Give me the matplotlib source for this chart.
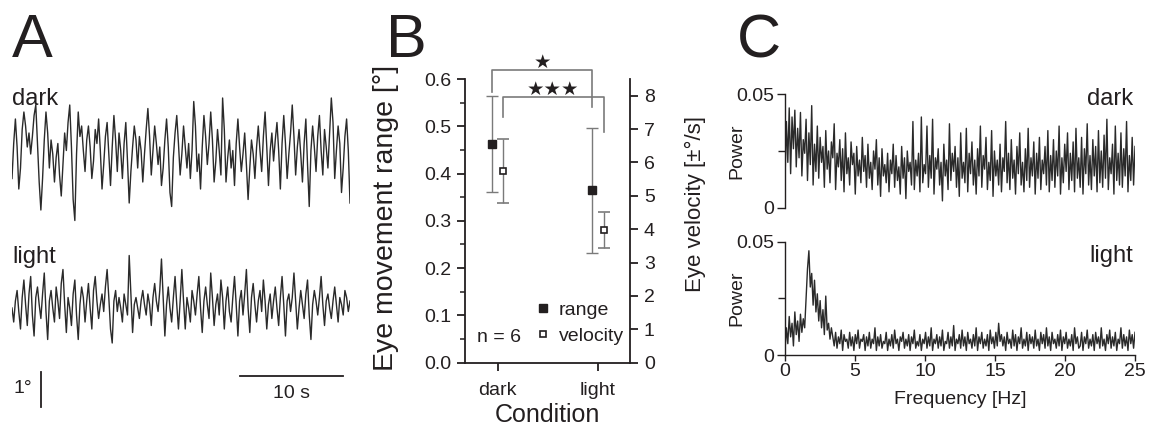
import matplotlib
matplotlib.use("Agg")

import matplotlib.pyplot as plt
import numpy as np
from matplotlib.lines import Line2D

plt.rcParams['font.family'] = ['Liberation Sans', 'DejaVu Sans']
INK = '#231f20'
GREY = '#7a7a7a'
TRACE = '#2a2a2a'

# --- A: example eye position traces (tenths of a degree around baseline) ---
trace_dark = [
    -6, 4, 11, 3, -9, -3, 8, 13, 9, 3, 7, 1, 6, 12, 15, 4, -7, -15, -6, 5,
    13, 7, -3, 5, 1, -7, 0, 4, -5, -11, -2, 7, 2, 10, 15, 3, -12, -18, 1, 13,
    6, 9, 2, -4, 5, 9, 3, -6, -1, 8, 4, 11, 2, -9, -2, 6, 10, 1, -8, 3,
    12, 5, -4, 7, 2, -6, 4, 10, -1, -13, -4, 3, 9, 5, -3, 6, 2, -7, 1, 8,
    14, 6, -5, 2, 9, 4, -2, 3, -8, -3, 5, 11, 3, -10, -14, 0, 7, 12, 4, -5,
    1, 9, 3, -3, 4, -6, 2, 16, 9, -4, 1, -9, 3, 12, 6, -2, 4, 13, 5, -7,
    -1, 8, 2, -5, 17, 8, -7, 0, 5, -3, 2, -8, 4, 11, 3, -4, 1, 7, -2, -12,
    -3, 5, 1, -6, 3, 9, 2, -4, 6, 13, 3, -8, 2, 7, -1, 5, 10, 2, -9, 4,
    12, 4, -6, 1, 7, 15, 6, -5, 3, 8, 1, -7, 4, 11, -2, -14, 2, 9, 3, -4,
    6, 12, 2, -5, 8, 3, -3, 7, 17, 10, -6, 2, 9, 4, -10, -3, 6, 11, 2, -13,
]
trace_light = [
    0, -4, 2, 5, -1, -6, 3, 8, 1, -5, 4, 9, -2, -8, 3, 6, 1, -3, 4, 10,
    -1, -9, 2, 5, 0, -4, 6, 2, -3, 7, 11, 1, -7, 3, 0, -5, 4, 8, -2, -9,
    1, 6, 3, -4, 2, 7, 0, -6, 5, 9, 2, -3, 1, 4, -1, 6, 11, 3, -6, -10,
    2, 5, -1, 3, 0, -4, 4, 1, -2, 15, 4, -7, 1, 3, 0, -3, 2, 5, 1, -2,
    4, 1, -5, 3, 7, 2, -1, 5, 14, 3, -8, 1, 6, 0, -4, 3, 9, 1, -6, 2,
    11, 2, -6, 3, 0, -4, 5, 2, -2, 4, 9, 0, -7, 2, 6, 1, -3, 10, 3, -5,
    1, 4, -2, 8, 3, -6, 2, 6, -1, -4, 3, 9, 1, -8, 2, 5, -2, 4, 11, 0,
    -7, 3, 7, 1, -4, 2, 5, -1, 8, 2, -6, 1, 4, -3, 2, 6, 0, -5, 3, 9,
    1, -8, 2, 4, -1, 3, 10, 2, -6, 0, 5, 1, -3, 4, 8, -2, -9, 1, 5, 2,
    -2, 3, 9, 1, -5, 2, 4, 0, -3, 2, 6, 1, -4, 3, 1, -2, 5, 3, -1, 2,
]
trace_duration = 33.0  # s

# --- B: group means +- SD (n = 6) ---
conditions = ['dark', 'light']
range_mean = [0.462, 0.365]
range_sd = [0.102, 0.132]
velocity_mean = [5.74, 3.98]
velocity_sd = [0.97, 0.54]

# --- C: power spectra (units of 0.001), 0-25 Hz ---
power_dark = [
    12, 38, 20, 44, 15, 40, 26, 43, 18, 35, 22, 42, 14, 30, 24, 39, 12, 33, 19, 45,
    10, 28, 16, 36, 13, 31, 20, 27, 9, 34, 17, 25, 11, 29, 22, 37, 8, 24, 18, 30,
    12, 26, 7, 33, 15, 22, 10, 29, 19, 24, 6, 27, 14, 21, 11, 31, 16, 23, 9, 28,
    13, 20, 8, 25, 17, 30, 10, 22, 5, 26, 14, 19, 11, 24, 7, 21, 15, 28, 9, 23,
    12, 18, 6, 27, 13, 22, 4, 25, 16, 20, 10, 38, 8, 21, 14, 24, 7, 40, 11, 19,
    15, 36, 9, 23, 13, 39, 6, 22, 17, 26, 10, 20, 3, 28, 14, 21, 8, 37, 12, 24,
    16, 27, 9, 22, 5, 33, 13, 20, 11, 35, 7, 24, 15, 29, 10, 21, 6, 26, 14, 36,
    9, 23, 17, 31, 8, 20, 12, 34, 5, 25, 14, 21, 10, 28, 7, 22, 16, 38, 11, 24,
    8, 30, 13, 21, 6, 27, 15, 33, 10, 20, 7, 26, 12, 35, 9, 22, 14, 29, 6, 24,
    13, 31, 8, 21, 15, 27, 10, 34, 7, 23, 12, 30, 9, 25, 14, 36, 6, 22, 11, 28,
    16, 33, 8, 24, 12, 29, 7, 35, 13, 22, 9, 31, 6, 26, 15, 37, 10, 23, 8, 30,
    14, 27, 7, 34, 11, 25, 9, 32, 13, 39, 8, 22, 15, 28, 6, 36, 12, 24, 10, 33,
    9, 26, 14, 38, 7, 23, 12, 31, 10, 27,
]
power_light = [
    2, 12, 5, 17, 8, 14, 4, 19, 9, 15, 6, 18, 10, 16, 12,
    25, 38, 46, 30, 36, 22, 33, 19, 27, 15,
    24, 12, 20, 9, 26, 11, 14, 7, 12, 8,
    4, 10, 3, 8, 5, 11, 2, 9, 6, 7, 3, 10, 4, 8, 2, 9, 5, 11, 3, 7,
    6, 9, 2, 8, 4, 10, 3, 7, 5, 12, 2, 8, 4, 9, 3, 6, 5, 10, 2, 7,
    4, 9, 3, 11, 5, 7, 2, 8, 6, 10, 3, 7, 4, 9, 2, 8, 5, 11, 3, 6,
    4, 9, 2, 7, 5, 10, 3, 8, 4, 12, 2, 7, 5, 9, 3, 8, 4, 11, 2, 6,
    5, 10, 3, 8, 4, 13, 2, 7, 5, 9, 3, 11, 4, 8, 2, 10, 5, 7, 3, 9,
    4, 12, 2, 8, 5, 10, 3, 7, 4, 9, 2, 11, 5, 8, 3, 10, 4, 14, 6, 9,
    4, 8, 2, 10, 5, 7, 3, 11, 4, 9, 2, 8, 5, 12, 3, 7, 4, 10, 2, 9,
    5, 8, 3, 11, 4, 7, 2, 10, 5, 9, 3, 12, 4, 8, 2, 10, 5, 7, 3, 9,
    4, 11, 2, 8, 5, 10, 3, 7, 4, 9, 2, 12, 5, 8, 3,
    4, 10, 2, 8, 5, 11, 3, 7, 4, 9, 2, 10, 5, 8, 3, 12, 4, 7, 2, 9,
    5, 11, 3, 8, 4, 10, 2, 7, 5, 12, 3, 9, 4, 8, 2, 11, 5, 9, 3, 10,
]
freq_max = 25.0

W, H = 1152, 425
fig = plt.figure(figsize=(W / 100, H / 100), dpi=100)


def px_axes(x0, y0, x1, y1):
    """Axes placed by pixel box (top-left origin)."""
    return fig.add_axes([x0 / W, 1 - y1 / H, (x1 - x0) / W, (y1 - y0) / H])


for letter, x in (('A', 12), ('B', 386), ('C', 737)):
    fig.text(x / W, 1 - 57 / H, letter, fontsize=44, color=INK, va='baseline')

# ---------------- A ----------------
axa = px_axes(12, 80, 350, 420)
axa.axis('off')
axa.set_xlim(0, trace_duration)
axa.set_ylim(0, 340 / 35)  # 35 px per degree
t_dark = np.linspace(0, trace_duration, len(trace_dark))
t_light = np.linspace(0, trace_duration, len(trace_light))
axa.plot(t_dark, 7.5 + 0.1 * np.array(trace_dark), color=TRACE, lw=1.0)
axa.plot(t_light, 3.2 + 0.1 * np.array(trace_light), color=TRACE, lw=1.0)
axa.text(0, 9.0, 'dark', fontsize=17, color=INK, va='baseline')
axa.text(0, 4.5, 'light', fontsize=17, color=INK, va='baseline')
# scale bars: 1 deg, 10 s
axa.plot([2.83, 2.83], [0.37, 1.37], color=INK, lw=1.3)
axa.text(0.1, 0.78, '1°', fontsize=14, color=INK, va='baseline')
axa.plot([22.27, 32.27], [1.26, 1.26], color=INK, lw=1.3)
axa.text(27.3, 0.63, '10 s', fontsize=14, color=INK, ha='center', va='baseline')

# ---------------- B ----------------
axb = px_axes(465, 79, 630, 362.7)
xpos = np.arange(len(conditions)) + 1.0
off = 0.055
axb.errorbar(xpos - off, range_mean, yerr=range_sd, fmt='s', ms=6,
             mfc=INK, mec=INK, ecolor=GREY, elinewidth=1, capsize=4,
             capthick=1, zorder=3)
axb.set_xlim(0.674, 2.319)
axb.set_ylim(0, 0.6)
axb.set_yticks(np.arange(0, 0.61, 0.1))
axb.set_yticks(np.arange(0.05, 0.6, 0.1), minor=True)
axb.set_xticks(xpos)
axb.set_xticklabels(conditions)
axb.spines[['top', 'right']].set_visible(False)
for s in ('left', 'bottom'):
    axb.spines[s].set_linewidth(1.3)
    axb.spines[s].set_color(INK)
axb.tick_params(which='major', length=6, width=1.3, color=INK,
                labelsize=14, labelcolor=INK, pad=4)
axb.tick_params(axis='x', pad=8)
axb.tick_params(which='minor', length=3.5, width=1.1, color=INK)
axb.set_xlabel('Condition', fontsize=18, color=INK, labelpad=3)
axb.set_ylabel('Eye movement range [°]', fontsize=20.5, color=INK)
axb.yaxis.set_label_coords(-0.40, 0.51)

axv = axb.twinx()
axv.errorbar(xpos + off, velocity_mean, yerr=velocity_sd, fmt='s', ms=5,
             mfc='white', mec=INK, mew=1.2, ecolor=GREY, elinewidth=1,
             capsize=4, capthick=1, zorder=3)
axv.set_ylim(0, 8.5)
axv.set_yticks(range(0, 9))
axv.spines[['top', 'left', 'bottom']].set_visible(False)
axv.spines['right'].set_linewidth(1.3)
axv.spines['right'].set_color(INK)
axv.tick_params(length=6, width=1.3, color=INK, labelsize=14,
                labelcolor=INK, pad=4)
axv.set_ylabel('Eye velocity [±°/s]', fontsize=16, color=INK)
axv.yaxis.set_label_coords(1.33, 0.56)

# significance brackets (range: *, velocity: ***)
brackets = [
    (xpos[0] - off, xpos[1] - off, 0.619, 0.573, 0.541, '★', 0.634),
    (xpos[0] + off, xpos[1] + off, 0.562, 0.519, 0.488, '★★★', 0.576),
]
for x0, x1, top, left_end, right_end, stars, ys in brackets:
    axb.plot([x0, x0, x1, x1], [left_end, top, top, right_end], color=GREY,
             lw=1.2, clip_on=False)
    axb.text((x0 + x1) / 2, ys, stars, fontsize=14, color=INK,
             ha='center', va='center', clip_on=False)

handles = [
    Line2D([], [], ls='none', marker='s', ms=6, mfc=INK, mec=INK),
    Line2D([], [], ls='none', marker='s', ms=5, mfc='white', mec=INK, mew=1.2),
]
axv.legend(handles, ['range', 'velocity'], loc='lower right',
           bbox_to_anchor=(1.07, 0.0), frameon=False, fontsize=14,
           handlelength=0.8, handletextpad=0.4, labelspacing=0.45,
           labelcolor=INK)
axb.text(0.073, 0.09, 'n = 6', transform=axb.transAxes, fontsize=14,
         color=INK, va='center')

# ---------------- C ----------------
spectra = [(power_dark, 'dark', (785, 94.3, 1135, 207.7), 0.906),
           (power_light, 'light', (785, 241.7, 1135, 355), 0.82)]
for i, (power, label, box, label_y) in enumerate(spectra):
    ax = px_axes(*box)
    freq = np.linspace(0, freq_max, len(power))
    ax.plot(freq, 0.001 * np.array(power), color=TRACE, lw=1.0)
    ax.set_xlim(0, freq_max)
    ax.set_ylim(0, 0.05)
    ax.set_yticks([0, 0.05])
    ax.set_yticklabels(['0', '0.05'])
    ax.set_yticks([0.025], minor=True)
    ax.spines[['top', 'right']].set_visible(False)
    ax.spines['left'].set_linewidth(1.0)
    ax.spines['left'].set_color(INK)
    ax.tick_params(axis='y', which='major', length=6, width=1.0, color=INK,
                   labelsize=14, labelcolor=INK, pad=1.5)
    ax.tick_params(axis='y', which='minor', length=5, width=1.0, color=INK)
    ax.set_ylabel('Power', fontsize=14, color=INK)
    ax.yaxis.set_label_coords(-0.113, 0.5)
    ax.text(0.995, label_y, label, transform=ax.transAxes, fontsize=17,
            color=INK, ha='right', va='baseline', clip_on=False)
    if i == 0:
        ax.spines['bottom'].set_visible(False)
        ax.set_xticks([])
    else:
        ax.spines['bottom'].set_linewidth(1.0)
        ax.spines['bottom'].set_color(INK)
        ax.set_xticks(np.arange(0, 26, 5))
        ax.tick_params(axis='x', length=4, width=1.0, color=INK,
                       labelsize=14, labelcolor=INK, pad=1.5)
        ax.set_xlabel('Frequency [Hz]', fontsize=14, color=INK, labelpad=8)

fig.savefig('out.png', dpi=100)
